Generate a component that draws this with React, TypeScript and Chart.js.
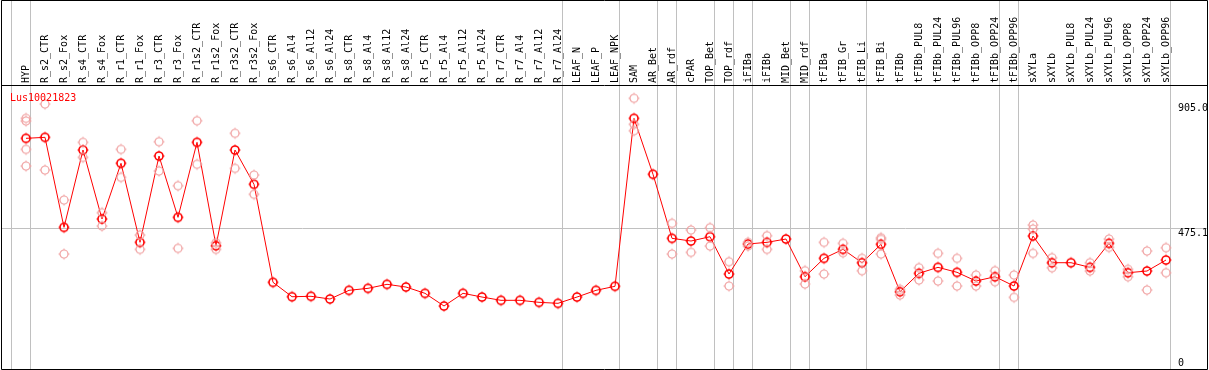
import React, { useEffect, useRef } from 'react';
import { Chart, registerables } from 'chart.js';

Chart.register(...registerables);

const N = null;

const chartTitle = 'Lus10021823';

const categories = [
  'HYP', 'R_s2_CTR', 'R_s2_Fox', 'R_s4_CTR', 'R_s4_Fox', 'R_r1_CTR', 'R_r1_Fox', 'R_r3_CTR', 'R_r3_Fox',
  'R_r1s2_CTR', 'R_r1s2_Fox', 'R_r3s2_CTR', 'R_r3s2_Fox', 'R_s6_CTR', 'R_s6_Al4', 'R_s6_Al12', 'R_s6_Al24',
  'R_s8_CTR', 'R_s8_Al4', 'R_s8_Al12', 'R_s8_Al24', 'R_r5_CTR', 'R_r5_Al4', 'R_r5_Al12', 'R_r5_Al24',
  'R_r7_CTR', 'R_r7_Al4', 'R_r7_Al12', 'R_r7_Al24', 'LEAF_N', 'LEAF_P', 'LEAF_NPK', 'SAM', 'AR_Bet', 'AR_rdf',
  'cPAR', 'TOP_Bet', 'TOP_rdf', 'iFIBa', 'iFIBb', 'MID_Bet', 'MID_rdf', 'tFIBa', 'tFIB_Gr', 'tFIB_Li', 'tFIB_Bi',
  'tFIBb', 'tFIBb_PUL8', 'tFIBb_PUL24', 'tFIBb_PUL96', 'tFIBb_OPP8', 'tFIBb_OPP24', 'tFIBb_OPP96',
  'sXYLa', 'sXYLb', 'sXYLb_PUL8', 'sXYLb_PUL24', 'sXYLb_PUL96', 'sXYLb_OPP8', 'sXYLb_OPP24', 'sXYLb_OPP96',
];

const means = [
  772.5, 775.8, 477.9, 733.8, 505.4, 689.8, 428.3, 713.9, 511.0, 759.3, 417.0, 733.8, 620.3,
  295.9, 248.2, 249.6, 240.6, 269.4, 276.0, 289.3, 280.3, 259.5, 217.5, 259.5, 247.2,
  236.3, 236.3, 229.7, 226.4, 247.2, 269.4, 282.7,
  838.7, 653.4, 441.5, 432.6, 446.8, 323.4, 422.7, 428.3, 439.2, 314.4, 375.3, 405.1, 360.8, 421.7,
  264.8, 325.7, 345.5, 329.0, 300.2, 314.4, 283.7,
  449.1, 360.8, 360.8, 345.5, 425.0, 327.7, 333.3, 369.7,
];

const rep1 = [
  838.7, 886.0, 568.3, 759.3, 526.3, 736.1, 452.5, 761.3, 615.6, 830.8, 427.0, 789.1, 651.0,
  N, N, N, N, N, N, N, N, N, N, N, N, N, N, N, N, N, N, N,
  905.0, N, 491.2, 469.0, 476.6, 364.1, 428.3, 450.1, N, 334.3, 428.3, 425.0, 375.3, 443.5,
  272.7, 344.2, 391.9, 375.3, 320.1, 334.3, 320.1,
  485.5, 377.3, N, 360.8, 439.2, 338.9, 399.5, 410.4,
];

const rep2 = [
  829.8, 667.6, 389.6, 709.6, 482.2, 643.4, 405.1, 664.3, 408.4, 686.5, 405.1, 673.2, 587.2,
  N, N, N, N, N, N, N, N, N, N, N, N, N, N, N, N, N, N, N,
  818.9, N, 389.6, 395.2, 416.0, 283.7, 416.0, 405.1, N, 290.3, 323.4, 393.9, 334.3, 438.2,
  253.9, 303.5, 300.2, 283.7, 283.7, 297.9, 246.2,
  472.3, 344.2, N, 333.3, 411.7, 314.4, 270.4, 327.7,
];

const rep3 = [
  736.1, N, N, N, N, N, N, N, N, N, N, N, N,
  N, N, N, N, N, N, N, N, N, N, N, N, N, N, N, N, N, N, N,
  797.7, N, N, N, N, N, N, N, N, N, N, N, N, 389.6,
  N, N, N, N, N, N, N,
  391.9, N, N, N, N, N, N, N,
];

const rep4 = [
  680.8, N, N, N, N, N, N, N, N, N, N, N, N,
  N, N, N, N, N, N, N, N, N, N, N, N, N, N, N, N, N, N, N,
  N, N, N, N, N, N, N, N, N, N, N, N, N, N,
  N, N, N, N, N, N, N,
  N, N, N, N, N, N, N, N,
];

const yTickValues = [0, 475.1, 905.0];
const yTickLabels = ['0', '475.1', '905.0'];
const gridLineValues = [475.1];
// index of last category in each group (vertical separators drawn just after it)
const groupEnds = [-1, 0, 28, 31, 33, 34, 36, 37, 38, 40, 41, 44, 51, 52, 60];

const FONT = '10px "DejaVu Sans Mono", monospace';
const RED = '#ff0000';
const PINK = '#f0a0a0';
const GRID = '#c0c0c0';

function makeMarker(color: string, lw: number): HTMLCanvasElement {
  const c = document.createElement('canvas');
  c.width = 14;
  c.height = 14;
  const g = c.getContext('2d')!;
  g.strokeStyle = color;
  g.lineWidth = lw;
  g.beginPath();
  g.arc(7, 7, 4, 0, Math.PI * 2);
  g.stroke();
  g.lineWidth = 1;
  g.beginPath();
  g.moveTo(7, 1.5); g.lineTo(7, 3);
  g.moveTo(7, 11); g.lineTo(7, 12.5);
  g.moveTo(1.5, 7); g.lineTo(3, 7);
  g.moveTo(11, 7); g.lineTo(12.5, 7);
  g.stroke();
  return c;
}

const decorPlugin = {
  id: 'decor',
  beforeDatasetsDraw(chart: any) {
    const { ctx, chartArea, scales } = chart;
    const x = scales.x;
    const y = scales.y;
    const W = chart.width;
    ctx.save();
    ctx.strokeStyle = GRID;
    ctx.lineWidth = 1;
    for (const g of groupEnds) {
      const px = Math.round(x.getPixelForValue(g + 4 / 19)) + 0.5;
      ctx.beginPath();
      ctx.moveTo(px, 0);
      ctx.lineTo(px, chartArea.bottom);
      ctx.stroke();
    }
    for (const v of gridLineValues) {
      const py = Math.round(y.getPixelForValue(v)) + 0.5;
      ctx.beginPath();
      ctx.moveTo(1, py);
      ctx.lineTo(W - 2, py);
      ctx.stroke();
    }
    ctx.restore();
  },
  afterDraw(chart: any) {
    const { ctx, chartArea, scales } = chart;
    const y = scales.y;
    const W = chart.width;
    ctx.save();
    ctx.font = FONT;
    ctx.textBaseline = 'alphabetic';
    ctx.textAlign = 'left';
    ctx.fillStyle = '#000';
    yTickValues.forEach((v, i) => {
      let py = y.getPixelForValue(v) + 8;
      py = Math.max(py, chartArea.top + 26);
      py = Math.min(py, chartArea.bottom - 3);
      ctx.fillText(yTickLabels[i], chartArea.right + 2.5, Math.round(py));
    });
    ctx.fillStyle = RED;
    ctx.fillText(chartTitle, 10, chartArea.top + 16);
    // frame
    ctx.strokeStyle = '#000';
    ctx.lineWidth = 1;
    ctx.beginPath();
    ctx.moveTo(1.5, 0.5);
    ctx.lineTo(W - 1.5, 0.5);
    ctx.lineTo(W - 1.5, chartArea.bottom + 0.5);
    ctx.lineTo(1.5, chartArea.bottom + 0.5);
    ctx.closePath();
    ctx.moveTo(1.5, chartArea.top + 0.5);
    ctx.lineTo(W - 1.5, chartArea.top + 0.5);
    ctx.stroke();
    ctx.restore();
  },
};

export default function App() {
  const ref = useRef<HTMLCanvasElement>(null);

  useEffect(() => {
    document.body.style.margin = '0';
    document.body.style.overflow = 'hidden';
    const meanMarker = makeMarker(RED, 1.6);
    const repMarker = makeMarker(PINK, 1.2);
    const repDs = (data: any[]) => ({
      data,
      showLine: false,
      pointStyle: repMarker,
      pointRadius: 5,
      borderColor: PINK,
      backgroundColor: PINK,
    });
    const chart = new Chart(ref.current!, {
      type: 'line',
      data: {
        labels: categories,
        datasets: [
          repDs(rep1),
          repDs(rep2),
          repDs(rep3),
          repDs(rep4),
          {
            data: means,
            borderColor: RED,
            borderWidth: 1,
            pointStyle: meanMarker,
            pointRadius: 5,
            backgroundColor: RED,
            tension: 0,
          },
        ] as any,
      },
      options: {
        animation: false,
        responsive: false,
        devicePixelRatio: 1,
        events: [],
        layout: { autoPadding: false, padding: { left: 16.5, right: 33.5, top: 0, bottom: 1 } },
        plugins: { legend: { display: false }, tooltip: { enabled: false }, title: { display: false } },
        scales: {
          x: {
            type: 'category',
            position: 'top',
            offset: true,
            grid: { display: false, drawTicks: false, tickLength: 0 },
            border: { display: false },
            ticks: {
              autoSkip: false,
              minRotation: 90,
              maxRotation: 90,
              padding: 2,
              labelOffset: 12,
              color: '#000',
              font: { family: '"DejaVu Sans Mono", monospace', size: 10 },
            },
            afterFit: (s: any) => { s.height = 85; },
          },
          y: {
            display: false,
            min: 9,
            max: 949,
          },
        },
      } as any,
      plugins: [decorPlugin],
    });
    return () => chart.destroy();
  }, []);

  return (
    <div style={{ width: 1209, height: 370 }}>
      <canvas ref={ref} width={1209} height={370} style={{ display: 'block', width: 1209, height: 370 }} />
    </div>
  );
}
